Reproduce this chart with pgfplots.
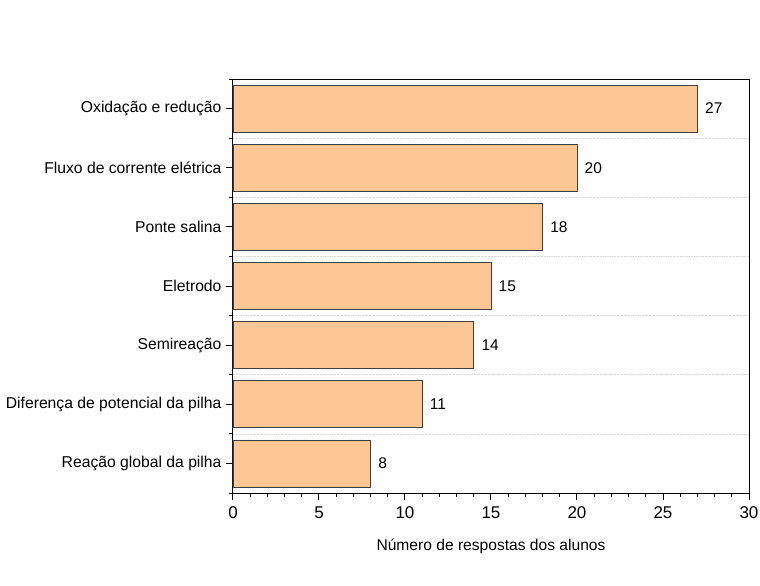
\documentclass[border=0pt]{standalone}
\usepackage{pgfplots}
\pgfplotsset{compat=1.18}
\usepackage{fontspec}
\setmainfont{Liberation Sans}
\definecolor{barc}{HTML}{FDC795}
\begin{document}
\begin{tikzpicture}[x=1pt,y=1pt]
\path[use as bounding box] (-233,-93) rectangle (527,493);
\begin{axis}[at={(0,0)}, anchor=south west, scale only axis,
  width=516pt, height=414pt,
  xbar, bar width=47pt,
  xmin=0, xmax=30, ymin=-0.5, ymax=6.5,
  ytick={0,...,6},
  yticklabels={Reação global da pilha, Diferença de potencial da pilha, Semireação, Eletrodo, Ponte salina, Fluxo de corrente elétrica, Oxidação e redução},
  minor ytick={-0.5,0.5,...,6.5},
  yminorgrids, minor grid style={densely dotted, black!15, line width=0.6pt},
  xtick={0,5,...,30}, minor xtick={0,...,30},
  tick align=outside, xtick pos=bottom, ytick pos=left,
  major tick length=7pt, minor tick length=4pt,
  axis line style={line width=1pt},
  every tick/.style={black, line width=1pt},
  /pgf/number format/assume math mode=true,
  yticklabel style={font=\fontsize{15.7}{17}\selectfont, xshift=-1pt},
  xticklabel style={font=\fontsize{17}{19}\selectfont, yshift=-3pt},
  xlabel={Número de respostas dos alunos},
  xlabel style={font=\fontsize{15.6}{17}\selectfont, yshift=-14pt},
  nodes near coords,
  nodes near coords style={anchor=west, xshift=4pt, font=\fontsize{15.5}{17}\selectfont, black},
]
\addplot[fill=barc, draw=black!75, line width=0.8pt] coordinates {(8,0) (11,1) (14,2) (15,3) (18,4) (20,5) (27,6)};
\end{axis}
\end{tikzpicture}
\end{document}
